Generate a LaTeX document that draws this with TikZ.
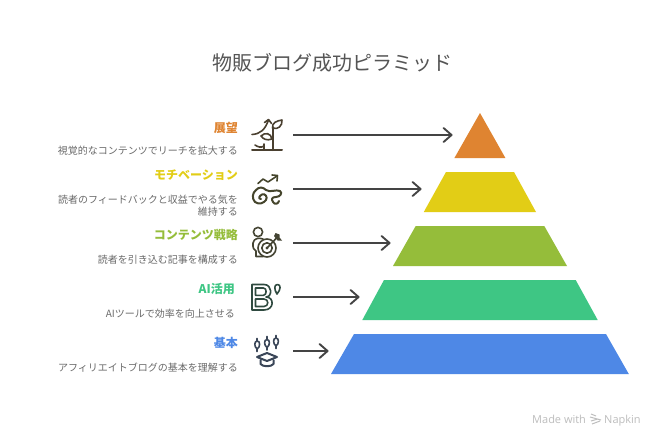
\documentclass[tikz,border=0pt]{standalone}
\usepackage{fontspec}
\setmainfont{Noto Sans CJK JP}
\newfontfamily\wmfont{Open Sans}
\usetikzlibrary{arrows.meta}
\definecolor{cOrange}{HTML}{DF8431}
\definecolor{cYellow}{HTML}{E2CD16}
\definecolor{cGreen}{HTML}{95BD3A}
\definecolor{cTeal}{HTML}{3EC684}
\definecolor{cBlue}{HTML}{4E88E6}
\definecolor{cText}{HTML}{6A6A6A}
\definecolor{cTitle}{HTML}{555555}
\definecolor{cArrow}{HTML}{444444}
\definecolor{wm}{HTML}{BDBDBD}
\definecolor{icA}{HTML}{4A4030}
\definecolor{icB}{HTML}{45452C}
\definecolor{icC}{HTML}{444433}
\definecolor{icD}{HTML}{2F4A40}
\definecolor{icE}{HTML}{3A4658}
\tikzset{
  x=1pt,y=-1pt,
  titletext/.style={font=\fontsize{20}{24}\selectfont,text=cTitle,inner sep=0pt},
  headtext/.style={font=\fontsize{12}{14}\selectfont\bfseries,anchor=east,inner sep=0pt},
  desctext/.style={font=\fontsize{10}{12}\selectfont,anchor=east,align=right,text=cText,inner sep=0pt},
  wmtext/.style={font=\wmfont\fontsize{11}{13}\selectfont,text=wm,anchor=base west,inner sep=0pt},
  iconbox/.style={minimum width=50pt,minimum height=30pt,inner sep=0pt},
  pointer/.style={draw=cArrow,line width=2pt,-{Straight Barb[length=8pt,width=14pt,line width=1.9pt,round]}},
  iconline/.style={line width=2pt,line cap=round,line join=round},
  thinicon/.style={line width=1.6pt,line cap=round,line join=round},
}
\begin{document}
\begin{tikzpicture}
\useasboundingbox (0,0) rectangle (664,447);
\fill[white] (0,0) rectangle (664,447);
\node[titletext] (title) at (332,62.5) {物販ブログ成功ピラミッド};

% pyramid
\fill[cOrange] (480,113) -- (505.4,158) -- (454.4,158) -- cycle;
\fill[cYellow] (446,172) -- (514,172) -- (536,212) -- (423.8,212) -- cycle;
\fill[cGreen] (415.7,226) -- (544.3,226) -- (567,266) -- (393,266) -- cycle;
\fill[cTeal] (384,280) -- (575.7,280) -- (597.7,320) -- (362.3,320) -- cycle;
\fill[cBlue] (354,334) -- (606,334) -- (628.8,374) -- (331,374) -- cycle;
\coordinate (tierA) at (452.5,135);
\coordinate (tierB) at (421.5,189);
\coordinate (tierC) at (390.5,243);
\coordinate (tierD) at (359.5,297);
\coordinate (tierE) at (328.5,351);

% labels
\node[headtext,text=cOrange] (hA) at (238,127.5) {展望};
\node[desctext] (dA) at (238,151) {視覚的なコンテンツでリーチを拡大する};
\node[headtext,text=cYellow] (hB) at (238,175.5) {モチベーション};
\node[desctext] (dB) at (238,205.5) {読者のフィードバックと収益でやる気を\\維持する};
\node[headtext,text=cGreen] (hC) at (238,235) {コンテンツ戦略};
\node[desctext] (dC) at (238,259.5) {読者を引き込む記事を構成する};
\node[headtext,text=cTeal] (hD) at (235,288.5) {AI活用};
\node[desctext] (dD) at (235,313.5) {AIツールで効率を向上させる};
\node[headtext,text=cBlue] (hE) at (238,342.5) {基本};
\node[desctext] (dE) at (238,367.5) {アフィリエイトブログの基本を理解する};

% icon anchors and connectors
\node[iconbox] (iA) at (268,135) {};
\node[iconbox] (iB) at (268,189) {};
\node[iconbox] (iC) at (268,243) {};
\node[iconbox] (iD) at (268,297) {};
\node[iconbox] (iE) at (268,351) {};
\draw[pointer] (iA.east) -- (tierA);
\draw[pointer] (iB.east) -- (tierB);
\draw[pointer] (iC.east) -- (tierC);
\draw[pointer] (iD.east) -- (tierD);
\draw[pointer] (iE.east) -- (tierE);

% icon 1: plant
\draw[iconline,icA] (252,150) -- (282,150);
\draw[iconline,icA] (272.5,150) -- (272.5,127);
\draw[thinicon,icA] (272.5,128) .. controls (272,122.5) and (276.5,121) .. (282,120) .. controls (282.5,126) and (278,130) .. (272.5,128) -- cycle;
\draw[thinicon,icA] (272,139) .. controls (267,141) and (263,139) .. (261,136) .. controls (265,132) and (271,133) .. (272,139) -- cycle;
\draw[thinicon,icA] (264,150) -- (264,144) (264,146) .. controls (261,148) and (258,147) .. (255,145);
\draw[thinicon,icA] (252,134.5) .. controls (260,134) and (265,130) .. (268.5,120);
\draw[thinicon,icA] (264.5,122.5) -- (268.5,119.5) -- (271.5,123.5);

% icon 2: path with rising arrow
\draw[thinicon,icB] (258,183.5) -- (263,179) -- (268,182) -- (277,176);
\draw[thinicon,icB] (272,175) -- (277.5,175.5) -- (277,181);
\draw[iconline,icB] (256,190) .. controls (252,193) and (252,199) .. (255,202) .. controls (259,205) and (264,203) .. (266,200) .. controls (268,197) and (265,193) .. (262,194.5) .. controls (259,196) and (258,199) .. (261,199);
\draw[iconline,icB] (256,190) .. controls (259,186.5) and (263,187) .. (266,190) .. controls (270,193) and (276,189) .. (280,191) .. controls (283,193) and (280,197) .. (276,197) .. controls (272,197) and (271,199) .. (273,202) .. controls (275,205) and (278,204) .. (279,201);

% icon 3: person and target
\draw[thinicon,icC] (258,232) circle (4.6);
\draw[thinicon,icC] (263,239) .. controls (259,237.5) and (254,238) .. (253,243) .. controls (252.5,248) and (254,250) .. (256,251) -- (256,256.5) -- (263,256.5);
\draw[thinicon,icC] (267,248) circle (9);
\draw[thinicon,icC] (267,248) circle (5.2);
\fill[icC] (267,248) circle (1.6);
\draw[thinicon,icC] (267,248) -- (277,237.5);
\fill[icC] (274,236) -- (277.5,240.5) -- (282,240.5) -- (279.5,237.5) -- (279.5,234.5) -- (275.5,233) -- cycle;

% icon 4: B with pin
\draw[thinicon,icD] (252,284.5) -- (264,284.5) .. controls (272.5,284.5) and (272.5,297) .. (266,297) .. controls (274.5,297) and (274.5,310) .. (264,310) -- (252,310) -- cycle;
\draw[thinicon,icD] (255.5,288) -- (263.5,288) .. controls (267,288) and (267,295) .. (263.5,295.3) -- (255.5,295.3) -- cycle;
\draw[thinicon,icD] (255.5,299) -- (264,299) .. controls (269,299) and (269,306.5) .. (264,306.5) -- (255.5,306.5) -- cycle;
\draw[thinicon,icD] (277,294) .. controls (274,289.5) and (274,284.5) .. (277.5,284.5) .. controls (281,284.5) and (281,289.5) .. (277,294) -- cycle;

% icon 5: candlesticks and graduation cap
\draw[thinicon,icE] (257.2,341) .. controls (254,341) and (254,347) .. (257.2,349) .. controls (260.4,347) and (260.4,341) .. (257.2,341) -- cycle;
\draw[thinicon,icE] (257.2,338.5) -- (257.2,341) (257.2,349) -- (257.2,351.5);
\draw[thinicon,icE] (267,339.5) .. controls (263.8,339.5) and (263.8,345.5) .. (267,347.5) .. controls (270.2,345.5) and (270.2,339.5) .. (267,339.5) -- cycle;
\draw[thinicon,icE] (267,336.5) -- (267,339.5) (267,347.5) -- (267,350);
\draw[thinicon,icE] (276,338) .. controls (272.8,338) and (272.8,344) .. (276,346) .. controls (279.2,344) and (279.2,338) .. (276,338) -- cycle;
\draw[thinicon,icE] (276,335.5) -- (276,338) (276,346) -- (276,348.5);
\draw[iconline,icE] (257,357) -- (267,353) -- (277,357) -- (267,361) -- cycle;
\draw[iconline,icE] (260.5,360) -- (260.5,364) .. controls (263,367) and (271,367) .. (273.5,364) -- (273.5,360);

% watermark
\node[wmtext] (wmL) at (532,423) {Made with};
\draw[wm,line width=1pt] (591,414) -- (596,416) (590,417) -- (601,420) (591,421) -- (598,419) (592,424) -- (600,421);
\node[wmtext] (wmR) at (604,423) {Napkin};
\end{tikzpicture}
\end{document}
